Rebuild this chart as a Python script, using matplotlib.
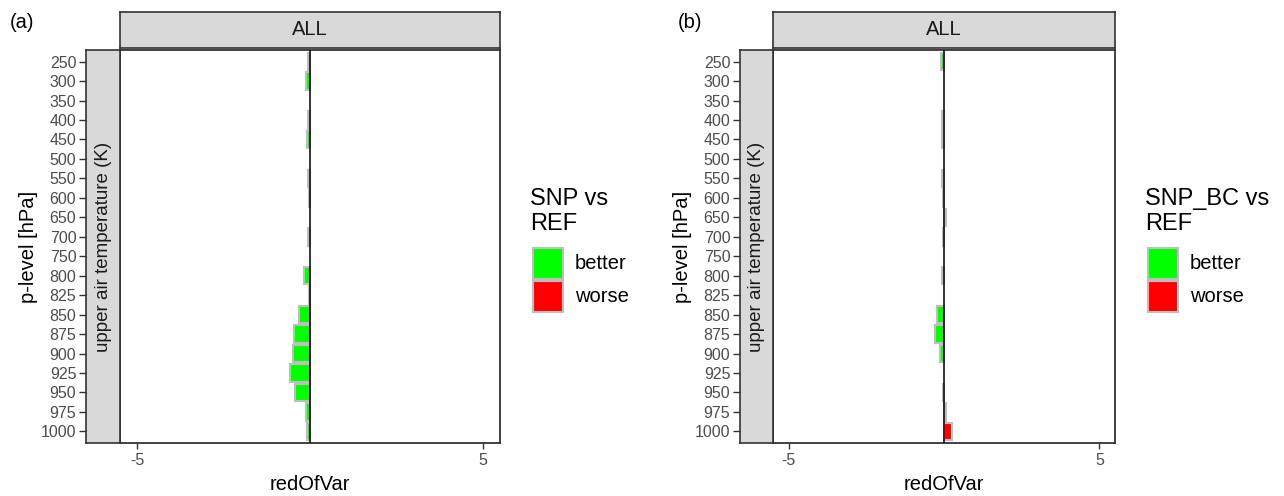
import numpy as np
import matplotlib
matplotlib.use('Agg')
import matplotlib.pyplot as plt
from matplotlib.patches import Rectangle

plt.rcParams['font.family'] = ['Liberation Sans', 'DejaVu Sans']

levels = ['250', '300', '350', '400', '450', '500', '550', '600', '650', '700',
          '750', '800', '825', '850', '875', '900', '925', '950', '975', '1000']

# redOfVar per p-level (nan = no bar)
snp_vals = [-0.05, -0.13, np.nan, -0.05, -0.08, np.nan, -0.05, -0.03, np.nan, -0.05,
            np.nan, -0.16, -0.04, -0.31, -0.46, -0.49, -0.58, -0.44, -0.12, -0.10]
snp_bc_vals = [-0.10, np.nan, np.nan, -0.05, -0.08, np.nan, -0.05, -0.03, 0.05, -0.02,
               np.nan, -0.05, np.nan, -0.24, -0.30, -0.14, np.nan, -0.04, 0.05, 0.25]

panel_tags = ['(a)', '(b)']
legend_titles = ['SNP vs\nREF', 'SNP_BC vs\nREF']
legend_labels = ['better', 'worse']
legend_colors = ['#00FF00', '#FF0000']

W, H = 1284, 496
fig = plt.figure(figsize=(W / 100, H / 100), dpi=100)


def px_axes(x0, y0, x1, y1):
    return fig.add_axes([x0 / W, 1 - y1 / H, (x1 - x0) / W, (y1 - y0) / H])


grey_txt = '#4D4D4D'
strip_fill = '#D9D9D9'
border = '#333333'

layouts = [
    dict(plot=(120, 50, 500, 443), left=(86, 120), tag=(10, 22), leg_x=530),
    dict(plot=(773, 50, 1115, 443), left=(740, 773), tag=(678, 22), leg_x=1145),
]

ypos = np.arange(len(levels))

for k, (vals, lay) in enumerate(zip([snp_vals, snp_bc_vals], layouts)):
    x0, y0, x1, y1 = lay['plot']
    ax = px_axes(x0, y0, x1, y1)
    vals = np.array(vals, dtype=float)
    ok = ~np.isnan(vals)
    cols = np.where(vals[ok] < 0, legend_colors[0], legend_colors[1])
    ax.barh(ypos[ok], vals[ok], height=0.9, color=cols,
            edgecolor='#BEBEBE', linewidth=1.5, zorder=2)
    ax.axvline(0, color='black', linewidth=1.1, zorder=3)
    ax.set_xlim(-5.5, 5.5)
    ax.set_ylim(len(levels) - 0.4, -0.6)
    ax.set_yticks([])
    ax.set_xticks([-5, 5])
    ax.set_xticklabels(['-5', '5'], color=grey_txt, fontsize=11.5)
    ax.tick_params(axis='x', length=4, width=1, color='#333333', pad=3)
    for s in ax.spines.values():
        s.set_color(border)
        s.set_linewidth(1.3)
    ax.set_xlabel('redOfVar', fontsize=14.5, labelpad=5)

    # top strip
    st = px_axes(x0, 12, x1, 47.5)
    st.set_facecolor(strip_fill)
    st.set_xticks([])
    st.set_yticks([])
    for s in st.spines.values():
        s.set_color(border)
        s.set_linewidth(1.2)
    st.text(0.5, 0.5, 'ALL', ha='center', va='center', fontsize=14.5,
            color='#1A1A1A', transform=st.transAxes)

    # left strip carries the y axis
    lx0, lx1 = lay['left']
    ls = px_axes(lx0, y0, lx1, y1)
    ls.set_facecolor(strip_fill)
    ls.set_xticks([])
    ls.set_ylim(ax.get_ylim())
    ls.set_yticks(ypos)
    ls.set_yticklabels(levels, color=grey_txt, fontsize=11.5)
    ls.tick_params(axis='y', length=5, width=1, color='#333333', pad=2)
    for s in ls.spines.values():
        s.set_color(border)
        s.set_linewidth(1.2)
    ls.text(0.5, 0.5, 'upper air temperature (K)', rotation=90, ha='center',
            va='center', fontsize=13.5, color='#1A1A1A', transform=ls.transAxes)
    ls.set_ylabel('p-level [hPa]', fontsize=14.5, labelpad=2)

    # panel tag
    tx, ty = lay['tag']
    fig.text(tx / W, 1 - ty / H, panel_tags[k], fontsize=14.5, ha='left', va='center')

    # legend
    lgx = lay['leg_x']
    fig.text(lgx / W, 1 - 188 / H, legend_titles[k], fontsize=17, ha='left', va='top',
             linespacing=1.2)
    for j, (lab, col) in enumerate(zip(legend_labels, legend_colors)):
        top = 248 + j * 33
        fig.add_artist(Rectangle(((lgx + 3) / W, 1 - (top + 31) / H),
                                 30 / W, 31 / H, transform=fig.transFigure,
                                 facecolor=col, edgecolor='#BEBEBE', linewidth=1.5))
        fig.text((lgx + 45) / W, 1 - (top + 15.5) / H, lab, fontsize=14.5,
                 ha='left', va='center')

fig.savefig('out.png', dpi=100)
